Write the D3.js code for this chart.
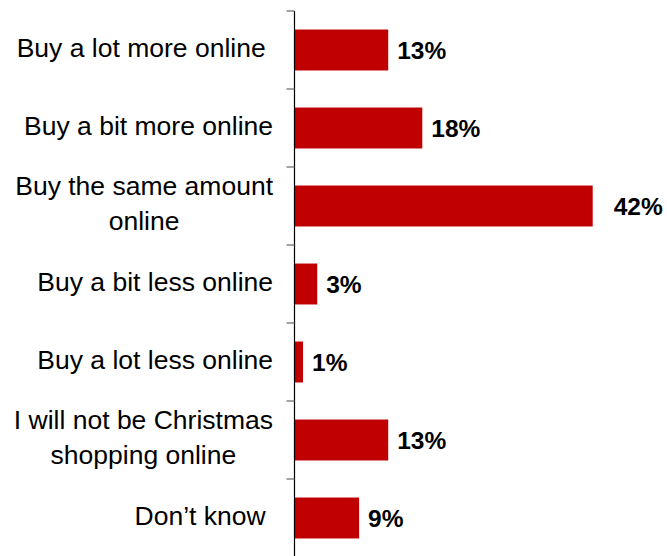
<!DOCTYPE html>
<html>
<head>
<meta charset="utf-8">
<script src="https://cdn.jsdelivr.net/npm/d3@7"></script>
<style>
  html, body { margin: 0; padding: 0; background: #fff; }
  svg { display: block; }
  text { font-family: "Liberation Sans", Arial, sans-serif; }
</style>
</head>
<body>
<div id="chart"></div>
<script>
// ---- data ----
const categories = [
  ["Buy a lot more online "],
  ["Buy a bit more online"],
  ["Buy the same amount", "online"],
  ["Buy a bit less online"],
  ["Buy a lot less online"],
  ["I will not be Christmas", "shopping online"],
  ["Don\u2019t know "]
];
const values = [13.2, 18, 42, 3.2, 1.2, 13.2, 9.1];
const valueLabels = ["13%", "18%", "42%", "3%", "1%", "13%", "9%"];

// ---- layout ----
const W = 667, H = 556;
const axisX = 294.5;
const plotTop = 11, plotBottom = 557;
const barColor = "#C00000";

const svg = d3.select("#chart").append("svg")
  .attr("width", W).attr("height", H);

const ids = categories.map((c, i) => i);
const y = d3.scaleBand().domain(ids).range([plotTop, plotBottom])
  .paddingInner(0.475).paddingOuter(0.2375);
const step = y.step();

const x = d3.scaleLinear().domain([0, 45]).range([axisX, axisX + 45 * 7.1]);

// bars
svg.selectAll("rect.bar").data(values).enter().append("rect")
  .attr("class", "bar")
  .attr("x", x(0))
  .attr("y", (d, i) => y(i))
  .attr("width", d => x(d) - x(0))
  .attr("height", y.bandwidth())
  .attr("fill", barColor);

// axis line
svg.append("line")
  .attr("x1", axisX).attr("x2", axisX)
  .attr("y1", plotTop).attr("y2", H)
  .attr("stroke", "#000").attr("stroke-width", 1.2);

// ticks at band boundaries
const boundaries = d3.range(ids.length + 1).map(i => plotTop + i * step);
svg.selectAll("line.tick").data(boundaries).enter().append("line")
  .attr("class", "tick")
  .attr("x1", axisX - 8).attr("x2", axisX)
  .attr("y1", d => d).attr("y2", d => d)
  .attr("stroke", "#666").attr("stroke-width", 1.2);

// category labels (block right-aligned, lines centred within block)
const labelRight = 273;
const lineH = 35;
const catG = svg.append("g").attr("font-size", 26.5).attr("fill", "#000");
categories.forEach((lines, i) => {
  const cy = y(i) + y.bandwidth() / 2;
  const n = lines.length;
  const tmp = [];
  lines.forEach((ln, j) => {
    const t = catG.append("text")
      .attr("xml:space", "preserve")
      .style("white-space", "pre")
      .attr("text-anchor", "middle")
      .attr("y", cy + 7 + (j - (n - 1) / 2) * lineH - (n > 1 ? 1 : 0))
      .text(ln);
    tmp.push(t);
  });
  const widths = tmp.map(t => t.node().getComputedTextLength());
  const bw = d3.max(widths);
  tmp.forEach(t => t.attr("x", labelRight - bw / 2));
});

// value labels
const maxV = d3.max(values);
svg.selectAll("text.val").data(values).enter().append("text")
  .attr("class", "val")
  .attr("x", d => x(d) + (d === maxV ? 21 : 9))
  .attr("y", (d, i) => y(i) + y.bandwidth() / 2 + 9)
  .attr("font-size", 24.5)
  .attr("font-weight", "bold")
  .attr("fill", "#000")
  .text((d, i) => valueLabels[i]);
</script>
</body>
</html>
